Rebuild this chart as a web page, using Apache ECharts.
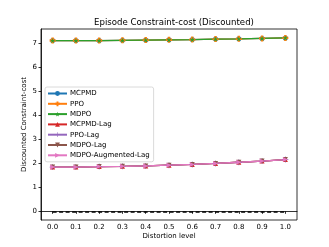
<!DOCTYPE html>
<html><head><meta charset="utf-8">
<script src="https://cdn.jsdelivr.net/npm/echarts@6/dist/echarts.min.js"></script>
<style>html,body{margin:0;padding:0;background:#fff}#c{width:329px;height:247px}</style>
</head><body><div id="c"></div>
<script>
const categories = ['0.0','0.1','0.2','0.3','0.4','0.5','0.6','0.7','0.8','0.9','1.0'];
const yTicks = [0,1,2,3,4,5,6,7];
const mcpmd = [7.10,7.10,7.10,7.11,7.12,7.13,7.14,7.16,7.17,7.19,7.21];
const ppo = [7.10,7.10,7.10,7.11,7.12,7.13,7.14,7.16,7.17,7.19,7.21];
const mdpo = [7.10,7.10,7.10,7.11,7.12,7.13,7.14,7.16,7.17,7.19,7.21];
const mcpmdLag = [1.84,1.84,1.86,1.87,1.89,1.92,1.95,1.99,2.04,2.09,2.15];
const ppoLag = [1.84,1.84,1.86,1.87,1.89,1.92,1.95,1.99,2.04,2.09,2.15];
const mdpoLag = [1.84,1.84,1.86,1.87,1.89,1.92,1.95,1.99,2.04,2.09,2.15];
const mdpoAugLag = [1.84,1.84,1.86,1.87,1.89,1.92,1.95,1.99,2.04,2.09,2.15];
const baseline = [0,0,0,0,0,0,0,0,0,0,0];
const names = ['MCPMD','PPO','MDPO','MCPMD-Lag','PPO-Lag','MDPO-Lag','MDPO-Augmented-Lag'];

const colors = ['#1f77b4','#ff7f0e','#2ca02c','#d62728','#9467bd','#8c564b','#e377c2'];
const symbols = [
  'circle',
  'path://M3,0 L7,0 L7,3 L10,3 L10,7 L7,7 L7,10 L3,10 L3,7 L0,7 L0,3 L3,3 Z',
  'path://M5,0 L6.2,3.6 L10,3.6 L6.9,5.9 L8.1,9.5 L5,7.3 L1.9,9.5 L3.1,5.9 L0,3.6 L3.8,3.6 Z',
  'triangle',
  'path://M4.4,0 L5.6,0 L5.6,4.4 L10,4.4 L10,5.6 L5.6,5.6 L5.6,10 L4.4,10 L4.4,5.6 L0,5.6 L0,4.4 L4.4,4.4 Z',
  'path://M0,0 L10,0 L5,10 Z',
  'path://M0,0 L10,5 L0,10 Z'
];
const sizes = [5,6,5,5,6,5,5];
const datas = [mcpmd, ppo, mdpo, mcpmdLag, ppoLag, mdpoLag, mdpoAugLag];

const series = names.map((n,i)=>({
  name:n, type:'line', data:datas[i], symbol:symbols[i], symbolSize:sizes[i],
  showAllSymbol:true, animation:false,
  lineStyle:{color:colors[i], width:1.3}, itemStyle:{color:colors[i]}
}));
// zero reference line (dashed), drawn from baseline through the axis scales
series[0].markLine = {
  silent:true, symbol:'none', animation:false, label:{show:false},
  lineStyle:{color:'#000', width:1.6, type:[4,2.5]},
  data:[[{coord:[categories[0], baseline[0]]},{coord:[categories[categories.length-1], baseline[baseline.length-1]]}]]
};

const font = 'DejaVu Sans';
const chart = echarts.init(document.getElementById('c'), null, {renderer:'canvas'});
chart.setOption({
  backgroundColor:'#fff',
  animation:false,
  title:{text:'Episode Constraint-cost (Discounted)', left:169, top:13, textAlign:'center',
    textStyle:{fontFamily:font, fontSize:8.6, fontWeight:'normal', color:'#000'}},
  grid:{left:41, right:32, top:29, bottom:27, show:true, borderColor:'#000', borderWidth:0.8, backgroundColor:'transparent'},
  legend:{data:names, orient:'vertical', left:45, top:87, itemWidth:19, itemHeight:6, itemGap:3.3,
    padding:[3,4,3,2], borderColor:'#d0d0d0', borderWidth:0.8, borderRadius:2, backgroundColor:'#fff',
    textStyle:{fontFamily:font, fontSize:7, color:'#000', padding:[0,0,0,-2]}},
  xAxis:{type:'category', data:categories, boundaryGap:true,
    name:'Distortion level', nameLocation:'middle', nameGap:13, nameMoveOverlap:false,
    nameTextStyle:{fontFamily:font, fontSize:7, color:'#000'},
    axisLine:{show:true, lineStyle:{color:'#000', width:0.8}},
    axisTick:{show:true, alignWithLabel:true, length:2.5, lineStyle:{color:'#000', width:0.8}},
    axisLabel:{fontFamily:font, fontSize:7, color:'#000', margin:4, interval:0},
    splitLine:{show:false}},
  yAxis:{type:'value', min:-0.36, max:7.58,
    name:'Discounted Constraint-cost', nameLocation:'middle', nameGap:13, nameMoveOverlap:false,
    nameTextStyle:{fontFamily:font, fontSize:7, color:'#000'},
    axisLine:{show:true, lineStyle:{color:'#000', width:0.8}},
    axisTick:{show:true, length:2.5, customValues:yTicks, lineStyle:{color:'#000', width:0.8}},
    axisLabel:{fontFamily:font, fontSize:7, color:'#000', margin:4, customValues:yTicks},
    splitLine:{show:false}},
  series:series
});
</script></body></html>
